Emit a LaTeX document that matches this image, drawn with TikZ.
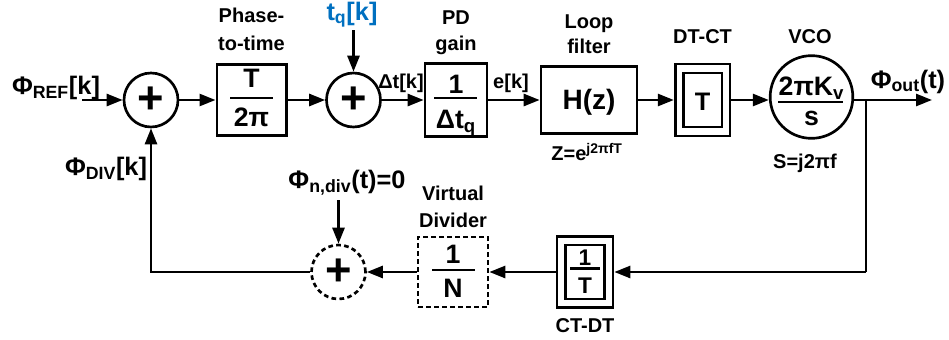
\documentclass[tikz,border=0pt]{standalone}
\usepackage{fontspec}
\setmainfont{Liberation Sans}
\usetikzlibrary{arrows.meta,calc}
\definecolor{tqblue}{RGB}{0,112,192}
\newcommand{\fsz}[1]{\fontsize{#1}{#1}\selectfont\bfseries}
\begin{document}
\begin{tikzpicture}[x=0.75pt,y=-0.75pt, line width=2pt,
  every node/.style={font=\bfseries, inner sep=0pt},
  blk/.style={draw, rectangle, line width=2pt},
  sumc/.style={draw, circle, minimum size=40.5pt, font=\fsz{34}},
  lbl/.style={font=\fsz{15}, anchor=base},
  big/.style={font=\fsz{19}, anchor=base},
  frc/.style={font=\fsz{20}, anchor=base},
  sig/.style={-{Triangle[length=12pt,width=9pt]}},
  bar/.style={line width=2pt},
  dsh/.style={dash pattern=on 3.5pt off 2.5pt}
]
\useasboundingbox (0,0) rectangle (949,339);

% blocks
\node[sumc] (s1) at (151,100) {+};
\node[blk, minimum width=52pt, minimum height=53pt] (b1) at (251.5,100) {};
\node[sumc] (s2) at (353.5,100) {+};
\node[blk, minimum width=46.5pt, minimum height=55pt] (pd) at (456,100) {};
\node[blk, minimum width=72pt, minimum height=50pt] (lf) at (589,100) {};
\node[blk, minimum width=41pt, minimum height=54pt] (dc) at (702.5,100) {};
\node[blk, minimum width=29pt, minimum height=40.5pt] (dci) at (702.5,100) {};
\node[draw, circle, minimum size=62pt] (vco) at (811.5,97) {};
\node[blk, minimum width=42pt, minimum height=53pt] (cd) at (585,272) {};
\node[blk, minimum width=29pt, minimum height=40.5pt] (cdi) at (585,272) {};
\node[blk, dsh, minimum width=52.5pt, minimum height=52.5pt] (dv) at (453,272) {};
\node[sumc, dsh] (s3) at (338.5,272) {+};

% block contents
\node[frc] (b1n) at (251.5,87) {T};
\draw[bar] (230,98) -- (273,98);
\node[frc] (b1d) at (251.5,126) {2π};
\node[frc] (pdn) at (456,93) {1};
\node[frc] (pdd) at (456,128) {Δt\textsubscript{q}};
\draw[bar] (434,98) -- (477,98);
\node[font=\fsz{21}, anchor=base] (lft) at (589,109) {H(z)};
\node[font=\fsz{19}, anchor=base] (dct) at (702.5,110) {T};
\node[frc] (vn) at (811.5,95) {2πK\textsubscript{v}};
\draw[bar] (778,102) -- (843,102);
\node[frc] (vd) at (811.5,125) {s};
\node[frc] (dvn) at (453,263) {1};
\draw[bar] (432,270) -- (475,270);
\node[frc] (dvd) at (453,297) {N};
\node[font=\fsz{17}, anchor=base] (cdn) at (585,265) {1};
\draw[line width=1.6pt] (570,268.5) -- (600,268.5);
\node[font=\fsz{17}, anchor=base] (cdd) at (585,293) {T};

% labels
\node[big] (lref) at (56,94) {Φ\textsubscript{REF}[k]};
\node[big] (ldiv) at (106,175) {Φ\textsubscript{DIV}[k]};
\node[big, text=tqblue] (ltq) at (352,20) {t\textsubscript{q}[k]};
\node[lbl] (ldt) at (401,88) {Δt[k]};
\node[lbl] (le) at (511,88) {e[k]};
\node[big] (lout) at (908,88) {Φ\textsubscript{out}(t)};
\node[big] (lpn) at (347,188) {Φ\textsubscript{n,div}(t)=0};
\node[lbl] (lpt1) at (251.5,22) {Phase-};
\node[lbl] (lpt2) at (251.5,50) {to-time};
\node[lbl] (lpd1) at (456,24) {PD};
\node[lbl] (lpd2) at (456,50) {gain};
\node[lbl] (llf1) at (589,28) {Loop};
\node[lbl] (llf2) at (589,53) {filter};
\node[lbl] (ldc) at (702.5,43) {DT-CT};
\node[lbl] (lvco) at (810,43) {VCO};
\node[lbl] (lz) at (587,160) {Z=e\textsuperscript{j2πfT}};
\node[lbl] (ls) at (805,168) {S=j2πf};
\node[lbl] (lv1) at (453,200) {Virtual};
\node[lbl] (lv2) at (453,227) {Divider};
\node[lbl] (lcd) at (585,332) {CT-DT};

% coordinates
\coordinate (in) at (82,100);
\coordinate (tq) at (353.5,30);
\coordinate (out) at (932,100);
\coordinate (br) at (866,100);
\coordinate (brd) at (866,272);
\coordinate (fbl) at (151,272);
\coordinate (pn) at (338.5,200);

% connectors
\draw[sig] (in) -- (s1);
\draw[sig] (s1) -- (b1);
\draw[sig] (b1) -- (s2);
\draw[sig] (s2) -- (pd);
\draw[sig] (pd) -- (lf);
\draw[sig] (lf) -- (dc);
\draw[sig] (dc.east) -- (dc.east -| vco.west);
\draw[sig] (dc.east -| vco.east) -- (out);
\draw (br) -- (brd);
\draw[sig] (brd) -- (cd);
\draw[sig] (cd) -- (dv);
\draw[sig] (dv) -- (s3);
\draw[sig] (s3) -- (fbl) -- (s1);
\draw[sig] (tq) -- (s2);
\draw[sig] (pn) -- (s3);
\end{tikzpicture}
\end{document}
